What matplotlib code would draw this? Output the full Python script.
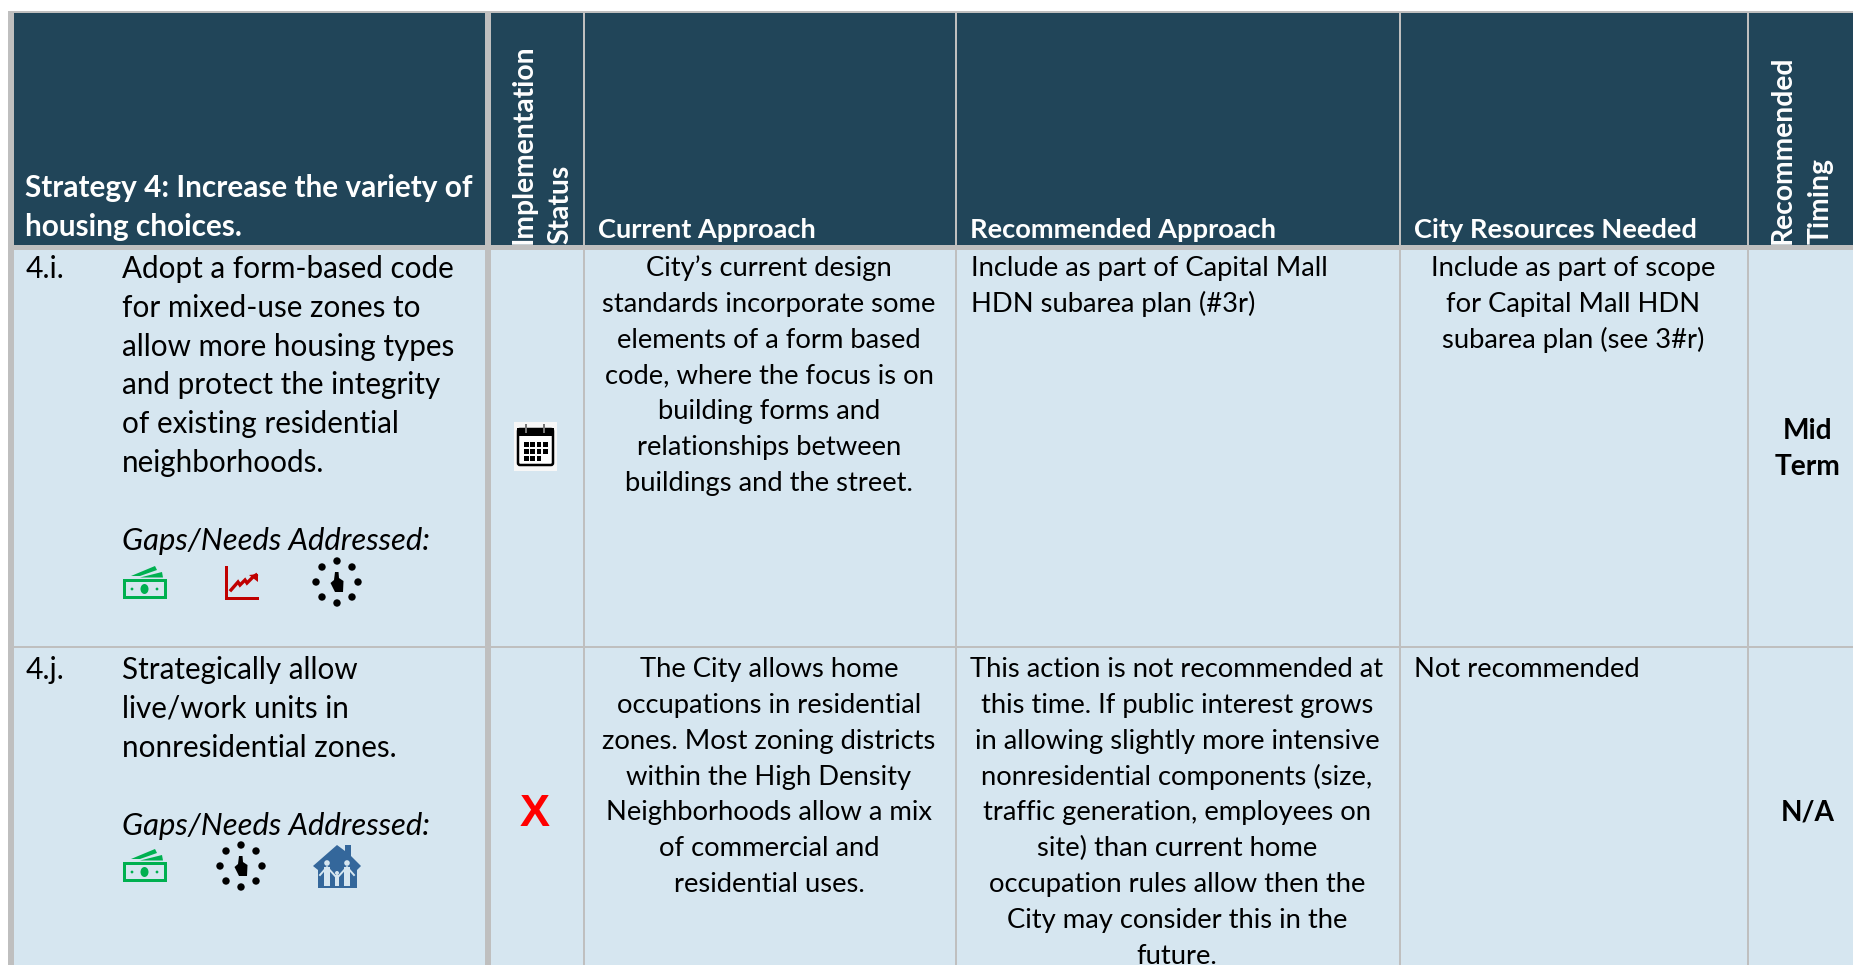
import matplotlib
matplotlib.use('Agg')
import matplotlib.pyplot as plt
from matplotlib.patches import Rectangle, Circle, Ellipse, Polygon, FancyBboxPatch

FONT = 'Lato'
NAVY = '#214559'
PALE = '#d6e6f0'
GRID = '#bfbfbf'
GREEN = '#00b050'
RED = '#c00000'
BLUE = '#34679b'

# table text
header_title = ['Strategy 4: Increase the variety of', 'housing choices.']
header_rot_1 = ['Implementation', 'Status']
header_rot_2 = ['Recommended', 'Timing']
header_cols = ['Current Approach', 'Recommended Approach', 'City Resources Needed']

ids = ['4.i.', '4.j.']
action_i = ['Adopt a form-based code', 'for mixed-use zones to', 'allow more housing types',
            'and protect the integrity', 'of existing residential', 'neighborhoods.']
action_j = ['Strategically allow', 'live/work units in', 'nonresidential zones.']
gaps_label = 'Gaps/Needs Addressed:'

current_i = ['City\u2019s current design', 'standards incorporate some', 'elements of a form based',
             'code, where the focus is on', 'building forms and', 'relationships between',
             'buildings and the street.']
current_j = ['The City allows home', 'occupations in residential', 'zones. Most zoning districts',
             'within the High Density', 'Neighborhoods allow a mix', 'of commercial and',
             'residential uses.']
recommended_i = ['Include as part of Capital Mall', 'HDN subarea plan (#3r)']
recommended_j = ['This action is not recommended at', 'this time. If public interest grows',
                 'in allowing slightly more intensive', 'nonresidential components (size,',
                 'traffic generation, employees on', 'site) than current home',
                 'occupation rules allow then the', 'City may consider this in the', 'future.']
resources_i = ['Include as part of scope', 'for Capital Mall HDN', 'subarea plan (see 3#r)']
resources_j = ['Not recommended']
timing_i = ['Mid', 'Term']
timing_j = ['N/A']

W, H = 1853, 965
fig = plt.figure(figsize=(W / 100, H / 100), dpi=100)
ax = fig.add_axes([0, 0, 1, 1])
ax.set_xlim(0, W)
ax.set_ylim(H, 0)
ax.axis('off')


def px(size):
    return size * 0.72


def rect(x0, y0, x1, y1, color, z=1):
    ax.add_patch(Rectangle((x0, y0), x1 - x0, y1 - y0, fc=color, ec='none', zorder=z))


def lines(items, x, y0, step, size=27.4, ha='left', **kw):
    for i, s in enumerate(items):
        ax.text(x, y0 + i * step, s, ha=ha, va='baseline', fontsize=px(size),
                family=FONT, color='black', zorder=5, **kw)


def money(x, y):
    # x, y = top left of the icon
    rect(x, y + 13, x + 44, y + 33, GREEN, 3)
    rect(x + 3, y + 16, x + 41, y + 30, PALE, 3)
    ax.add_patch(Ellipse((x + 21.5, y + 23), 8, 10, fc=GREEN, ec='none', zorder=4))
    for dx in (9, 34):
        ax.add_patch(Circle((x + dx, y + 23), 1.4, fc=GREEN, ec='none', zorder=4))
    ax.add_patch(Polygon([(x + 8, y + 10), (x + 32, y + 0), (x + 34, y + 4), (x + 17, y + 10)],
                         fc=GREEN, ec='none', zorder=3))
    ax.add_patch(Polygon([(x + 17, y + 11.5), (x + 39, y + 6), (x + 40, y + 11.5)],
                         fc=GREEN, ec='none', zorder=3))


def growth(x, y):
    rect(x + 1, y, x + 4, y + 34, RED, 3)
    rect(x + 1, y + 31, x + 35, y + 34, RED, 3)
    ax.plot([x + 7, x + 14, x + 16, x + 21, x + 23, x + 29, x + 32],
            [y + 24, y + 16, y + 19, y + 14, y + 17, y + 11, y + 9],
            color=RED, lw=2.4, zorder=4, solid_joinstyle='miter')
    ax.add_patch(Polygon([(x + 25, y + 9), (x + 34, y + 8), (x + 34, y + 16)], fc=RED, ec='none', zorder=4))


def clicker(cx, cy):
    pts = [(0, -21), (15, -15), (21, 0), (15, 15), (0, 21), (-15, 15), (-21, 0), (-15, -15)]
    for dx, dy in pts:
        ax.add_patch(Circle((cx + dx, cy + dy), 3.7, fc='black', ec='none', zorder=4))
    ax.add_patch(Polygon([(cx - 2, cy - 10), (cx + 1.5, cy - 10), (cx + 2, cy - 4), (cx + 6.5, cy - 1),
                          (cx + 6, cy + 10), (cx - 2, cy + 10), (cx - 6.5, cy + 1), (cx - 3, cy - 2)],
                         fc='black', ec='none', zorder=4))


def house(cx, top):
    ax.add_patch(Polygon([(cx, top), (cx + 8, top + 6), (cx + 8, top), (cx + 14, top), (cx + 14, top + 11),
                          (cx + 24, top + 21), (cx + 20, top + 25), (cx + 20, top + 43),
                          (cx - 19, top + 43), (cx - 19, top + 25), (cx - 24, top + 21)],
                         fc=BLUE, ec='none', zorder=3))
    for dx, r, h0, h1 in [(-10, 2.8, 24, 41), (10, 2.8, 24, 41), (0, 2, 32, 41)]:
        ax.add_patch(Circle((cx + dx, top + h0 - 6 + (2 if r < 2.5 else 0)), r, fc=PALE, ec='none', zorder=4))
        rect(cx + dx - r, top + h0 - 2, cx + dx + r, top + h1, PALE, 4)
    ax.plot([cx - 17, cx - 10, cx, cx + 10, cx + 17], [top + 30, top + 22, top + 33, top + 22, top + 30],
            color=PALE, lw=1.4, zorder=4)


def calendar(x0, y0, x1, y1):
    rect(x0, y0, x1, y1, '#f7f7f7', 3)
    ax.add_patch(FancyBboxPatch((x0 + 4, y0 + 7), x1 - x0 - 8, y1 - y0 - 13,
                                boxstyle='round,pad=0,rounding_size=2', fc='white', ec='black', lw=1.8, zorder=4))
    rect(x0 + 3, y0 + 6, x1 - 3, y0 + 14, 'black', 4)
    for dx in (12, 30):
        rect(x0 + dx - 1, y0 + 2, x0 + dx + 1, y0 + 11, '#777777', 5)
    counts = [4, 4, 3]
    for r, n in enumerate(counts):
        for c in range(n):
            rect(x0 + 10 + c * 6.3, y0 + 20 + r * 7, x0 + 14.7 + c * 6.3, y0 + 24.7 + r * 7, 'black', 5)


# backgrounds
rect(8, 11, W, H, GRID, 0)
col_edges = [(14, 485), (491, 583), (585, 955), (957, 1399), (1401, 1747), (1749, W)]
for x0, x1 in col_edges:
    rect(x0, 13, x1, 245, NAVY)
    rect(x0, 250, x1, 646, PALE)
    rect(x0, 648, x1, H, PALE)

# header
for i, s in enumerate(header_title):
    ax.text(25, 197 + i * 39, s, color='white', fontsize=px(29.8), fontweight='bold',
            family=FONT, va='baseline', ha='left', zorder=5)
for s, x in zip(header_cols, (598, 970, 1414)):
    ax.text(x, 238, s, color='white', fontsize=px(27.2), fontweight='bold', family=FONT,
            va='baseline', ha='left', zorder=5)
for s, x in zip(header_rot_1 + header_rot_2, (532, 568, 1791, 1829)):
    ax.text(x, 244, s, color='white', fontsize=px(28.2), fontweight='bold', family=FONT, rotation=90,
            rotation_mode='anchor', ha='left', va='baseline', zorder=5)

# row 4.i
lines([ids[0]], 26, 278, 0, 30)
lines(action_i, 122, 278, 38.8, 29.6)
lines([gaps_label], 122, 550, 0, 31, style='italic')
money(123, 566)
growth(224, 566)
clicker(337, 582)
calendar(514, 422, 557, 471)
lines(current_i, 769, 276, 35.85, ha='center')
lines(recommended_i, 971, 276, 35.85)
lines(resources_i, 1573, 276, 35.85, ha='center')
for i, s in enumerate(timing_i):
    ax.text(1808, 439 + i * 36, s, fontsize=px(28), fontweight='bold', family=FONT,
            ha='center', va='baseline', zorder=5)

# row 4.j
lines([ids[1]], 26, 679, 0, 30)
lines(action_j, 122, 679, 38.8, 29.6)
lines([gaps_label], 122, 835, 0, 31, style='italic')
money(123, 849)
clicker(241, 866)
house(337, 845)
ax.text(535, 815, 'X', fontsize=px(45), fontweight='bold', color='#ff0000', family='Liberation Sans',
        ha='center', va='center', zorder=5)
lines(current_j, 769, 677, 35.85, ha='center')
lines(recommended_j, 1177, 677, 35.85, ha='center')
lines(resources_j, 1414, 677, 35.85)
ax.text(1808, 820, timing_j[0], fontsize=px(28), fontweight='bold', family=FONT,
        ha='center', va='baseline', zorder=5)

fig.savefig('out.png', dpi=100, facecolor='white')
